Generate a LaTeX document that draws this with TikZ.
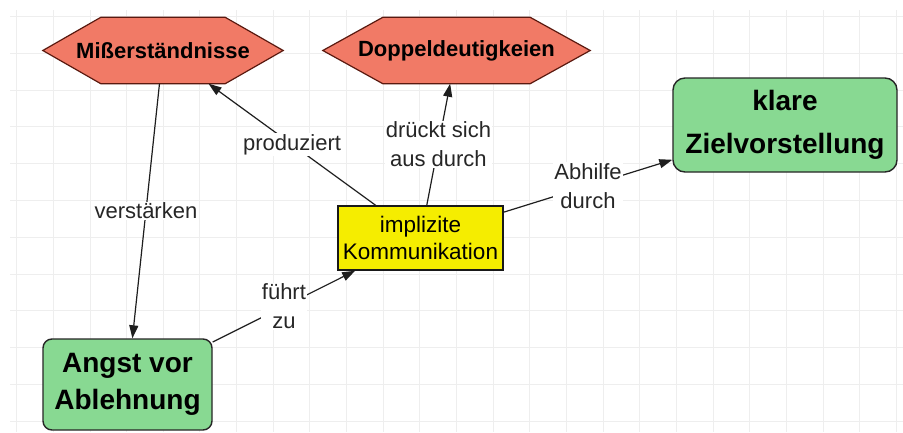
\documentclass[tikz,border=0pt]{standalone}
\usepackage{fontspec}
\setmainfont{Liberation Sans}
\usetikzlibrary{arrows.meta}
\pgfdeclarelayer{bg}
\pgfsetlayers{bg,main}
\definecolor{hexfill}{RGB}{241,122,102}
\definecolor{hexline}{RGB}{90,25,15}
\definecolor{boxgreen}{RGB}{136,217,146}
\definecolor{boxyellow}{RGB}{245,237,0}
\definecolor{gridc}{RGB}{238,238,238}
\definecolor{lineclr}{RGB}{30,30,30}
\begin{document}
\begin{tikzpicture}[x=1pt,y=-1pt,
  hexnode/.style={inner sep=0pt, font=\fontsize{22}{24}\selectfont\bfseries},
  hexshape/.style={fill=hexfill, draw=hexline, line width=1.2pt, line join=miter},
  greenbox/.style={draw=black!85, fill=boxgreen, rounded corners=9pt, line width=1.4pt, align=center, inner sep=0pt},
  ybox/.style={draw=black!90, fill=boxyellow, line width=1.4pt, align=center, inner sep=0pt, font=\fontsize{22.5}{26.7}\selectfont},
  conn/.style={draw=lineclr, line width=1.2pt, -{Triangle[length=13pt,width=9pt]}},
  lbl/.style={fill=white, inner sep=1pt, align=center, font=\fontsize{22}{29}\selectfont, text=black!85},
  gridline/.style={draw=gridc, line width=1pt}
]
\useasboundingbox (0,0) rectangle (903,432);

\node[hexnode, minimum width=240pt, minimum height=66pt] (mis) at (163,50.5) {Mißerständnisse};
\node[hexnode, minimum width=267pt, minimum height=66pt] (dop) at (456.5,50.5) {Doppeldeutigkeien};
\node[ybox, minimum width=165pt, minimum height=64pt] (imp) at (420.5,238) {implizite\\Kommunikation};
\node[greenbox, minimum width=224pt, minimum height=94pt, rounded corners=12pt, font=\fontsize{28}{43}\selectfont\bfseries] (kla) at (785,125) {klare\\Zielvorstellung};
\node[greenbox, minimum width=169pt, minimum height=91pt, font=\fontsize{28}{36.5}\selectfont\bfseries] (ang) at (127.5,384.5) {Angst vor\\Ablehnung};

\begin{pgfonlayer}{bg}
  \fill[white] (0,0) rectangle (903,432);
  \foreach \k in {0,...,24} \draw[gridline] (16.7+36.65*\k,10) -- (16.7+36.65*\k,432);
  \foreach \k in {0,...,11} \draw[gridline] (10,16.5+36.8*\k) -- (903,16.5+36.8*\k);
  \foreach \n/\d in {mis/58,dop/60}
    \draw[hexshape] (\n.west) -- ([xshift=\d pt]\n.north west) -- ([xshift=-\d pt]\n.north east) -- (\n.east) -- ([xshift=-\d pt]\n.south east) -- ([xshift=\d pt]\n.south west) -- cycle;
\end{pgfonlayer}

\draw[conn] (mis) -- node[lbl]{verstärken} (ang);
\draw[conn] (imp) -- node[lbl]{produziert} (mis);
\draw[conn] (imp) -- node[lbl]{drückt sich\\aus durch} (dop);
\draw[conn] (imp) -- node[lbl]{Abhilfe\\durch} (kla);
\draw[conn] (ang) -- node[lbl]{führt\\zu} (imp);
\end{tikzpicture}
\end{document}
